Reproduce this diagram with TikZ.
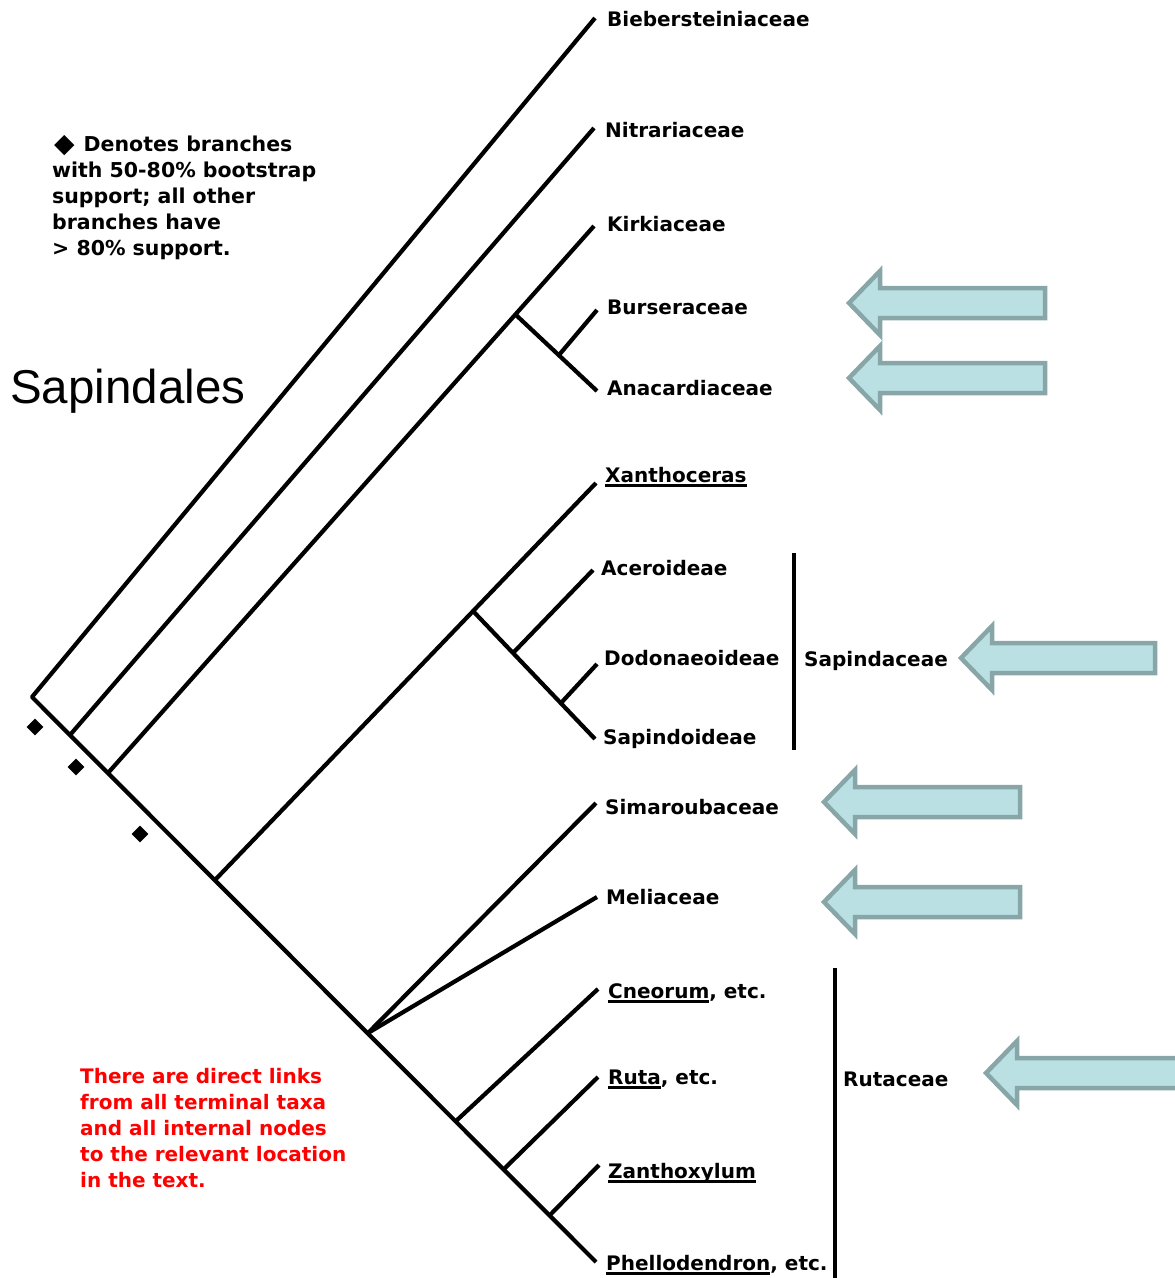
\documentclass[tikz,border=0pt]{standalone}
\usepackage{fontspec}
\usepackage{graphicx}
\setmainfont{DejaVu Sans}
\newfontfamily\arialfont{Liberation Sans}
\usetikzlibrary{calc, shapes.geometric}
\definecolor{callfill}{HTML}{BAE0E3}
\definecolor{calldraw}{HTML}{88A6A7}
\newcommand\taxul[1]{\setbox0\hbox{#1}\rlap{\rule[-4.5pt]{\wd0}{2.2pt}}\box0}

\begin{document}
\begin{tikzpicture}[x=1pt, y=-1pt,
    branch/.style={line width=4.2pt},
    taxon/.style={anchor=base west, inner sep=0pt, font=\fontsize{20}{24}\selectfont\bfseries},
    callout/.style={draw=calldraw, fill=callfill, line width=4.5pt}]
    \clip (0,0) rectangle (1175,1278);
    % internal nodes of the tree
    \coordinate (root) at (32,697);
    \coordinate (n2) at (70,735);
    \coordinate (n3) at (108,773);
    \coordinate (n4) at (215,880);
    \coordinate (n5) at (368,1033);
    \coordinate (n6) at (456,1121);
    \coordinate (n7) at (504,1169);
    \coordinate (n8) at (550,1215);
    \coordinate (nBA) at (516,315);
    \coordinate (nBAsub) at (559,355);
    \coordinate (nSap) at (473,611);
    \coordinate (nAcer) at (513,653);
    \coordinate (nDod) at (561,703);
    % tips
    \coordinate (tBieb) at (595,18);
    \coordinate (tNitr) at (594,128);
    \coordinate (tKirk) at (594,226);
    \coordinate (tBurs) at (597,310);
    \coordinate (tAnac) at (597,391);
    \coordinate (tXan) at (596,483);
    \coordinate (tAcer) at (593,570);
    \coordinate (tDod) at (597,664);
    \coordinate (tSapi) at (595,739);
    \coordinate (tSima) at (596,803);
    \coordinate (tMeli) at (597,897);
    \coordinate (tCneo) at (598,989);
    \coordinate (tRuta) at (598,1077);
    \coordinate (tZant) at (599,1165);
    \coordinate (tPhel) at (596,1262);

    \draw[branch, line join=round] (tBieb) -- (root) -- (tPhel);
    \draw[branch] (n2) -- (tNitr);
    \draw[branch] (n3) -- (tKirk);
    \draw[branch] (nBA) -- (tAnac);
    \draw[branch] (nBAsub) -- (tBurs);
    \draw[branch] (n4) -- (tXan);
    \draw[branch] (nSap) -- (tSapi);
    \draw[branch] (nAcer) -- (tAcer);
    \draw[branch] (nDod) -- (tDod);
    \draw[branch] (n5) -- (tSima);
    \draw[branch] (n5) -- (tMeli);
    \draw[branch] (n6) -- (tCneo);
    \draw[branch] (n7) -- (tRuta);
    \draw[branch] (n8) -- (tZant);

    % taxa
    \node[taxon] (bieb) at (607,26) {Biebersteiniaceae};
    \node[taxon] (nitr) at (605,137) {Nitrariaceae};
    \node[taxon] (kirk) at (607,231) {Kirkiaceae};
    \node[taxon] (burs) at (607,314) {Burseraceae};
    \node[taxon] (anac) at (607,395) {Anacardiaceae};
    \node[taxon] (xan) at (605,482) {\taxul{Xanthoceras}};
    \node[taxon] (acer) at (601,575) {Aceroideae};
    \node[taxon] (dod) at (604,665) {Dodonaeoideae};
    \node[taxon] (sapi) at (603,744) {Sapindoideae};
    \node[taxon] (sima) at (605,814) {Simaroubaceae};
    \node[taxon] (meli) at (606,904) {Meliaceae};
    \node[taxon] (cneo) at (608,998) {\taxul{Cneorum}, etc.};
    \node[taxon] (ruta) at (608,1084) {\taxul{Ruta}, etc.};
    \node[taxon] (zant) at (608,1178) {\taxul{Zanthoxylum}};
    \node[taxon] (phel) at (606,1270) {\taxul{Phellodendron}, etc.};

    % families
    \draw[branch] (794,553) -- (794,750);
    \node[taxon] (sapfam) at (804,666) {Sapindaceae};
    \draw[branch] (835,968) -- (835,1290);
    \node[taxon] (rutfam) at (843,1086) {Rutaceae};

    % bootstrap marks
    \foreach \mx/\my [count=\k] in {35/727, 76/767, 140/834}
        \node[diamond, fill, inner sep=0pt, minimum size=17pt] (mk\k) at (\mx,\my) {};

    % arrows
    \foreach \tx/\ay/\ex in {849/303/1045, 849/378/1045, 961/658/1155, 824/802/1020, 824/902/1020, 986/1073/1200}{
        \draw[callout] (\tx,\ay) -- (\tx+31,\ay-32) -- (\tx+31,\ay-15) -- (\ex,\ay-15)
            -- (\ex,\ay+15) -- (\tx+31,\ay+15) -- (\tx+31,\ay+32) -- cycle;
    }

    \node[anchor=base west, inner sep=0pt, font=\arialfont\fontsize{47.5}{50}\selectfont] (order) at (10,403) {Sapindales};
    \node[anchor=north west, inner sep=0pt, align=left, font=\fontsize{20.5}{26}\selectfont\bfseries] (legend) at (52,135)
        {\hspace*{2pt}\raisebox{-0.5pt}{\scalebox{1.3}{◆}}\hspace{9pt}Denotes branches\\with 50-80\% bootstrap\\support; all other\\branches have\\> 80\% support.};
    \node[anchor=north west, inner sep=0pt, align=left, text=red, font=\fontsize{20}{26}\selectfont\bfseries] (note) at (80,1068)
        {There are direct links\\from all terminal taxa\\and all internal nodes\\to the relevant location\\in the text.};
\end{tikzpicture}
\end{document}
